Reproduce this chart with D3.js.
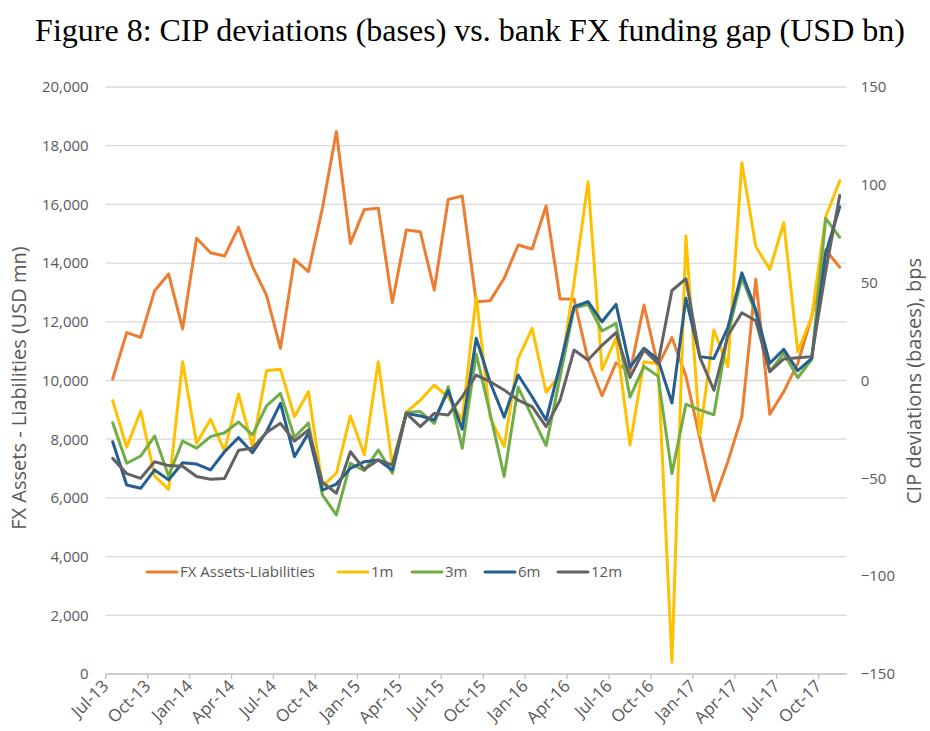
<!DOCTYPE html>
<html><head><meta charset="utf-8">
<script src="https://cdn.jsdelivr.net/npm/d3@7"></script>
<style>body{margin:0;background:#fff}svg{display:block}</style>
</head><body>
<svg id="chart" width="930" height="731"></svg>
<script>
const months = ["Jul-13","Aug-13","Sep-13","Oct-13","Nov-13","Dec-13",
"Jan-14","Feb-14","Mar-14","Apr-14","May-14","Jun-14","Jul-14","Aug-14","Sep-14","Oct-14","Nov-14","Dec-14",
"Jan-15","Feb-15","Mar-15","Apr-15","May-15","Jun-15","Jul-15","Aug-15","Sep-15","Oct-15","Nov-15","Dec-15",
"Jan-16","Feb-16","Mar-16","Apr-16","May-16","Jun-16","Jul-16","Aug-16","Sep-16","Oct-16","Nov-16","Dec-16",
"Jan-17","Feb-17","Mar-17","Apr-17","May-17","Jun-17","Jul-17","Aug-17","Sep-17","Oct-17","Nov-17"];

const fxGap = [10050,11630,11470,13060,13630,11755,14845,14355,14240,15220,
13880,12910,11095,14130,13710,15870,18480,14670,15830,15870,
12650,15130,15070,13085,16170,16285,12680,12720,13480,14615,
14480,15945,12775,12775,10700,9480,10600,10290,12570,10500,
11460,10150,8030,5905,7235,8770,13450,8850,9620,10585,
12175,14450,13860];

const cip1m = [-10.3,-34.1,-15.6,-48.8,-55.6,9.6,-32.1,-19.8,-36.0,-6.9,
-33.8,5.0,5.7,-18.5,-5.7,-54,-47.4,-18.1,-38,9.6,
-43,-16.2,-10.1,-2.3,-8.5,-20,42.8,-19,-33.8,11.3,
26.7,-6,3,50,101.6,5.4,21.6,-33,9.6,8.5,
-144,73.8,-27.8,25.8,7.1,111.3,68.4,56.8,80.6,14.7,
32.6,83.7,102.1];

const cip3m = [-21.6,-42.3,-38.6,-28.4,-48.8,-30.9,-34.6,-28.7,-26.7,-21.2,
-27.8,-13.0,-6.6,-29,-21.7,-58.5,-68.7,-42.3,-46.1,-35.5,
-47.4,-16.4,-15.9,-21.9,-3.2,-34.6,13.5,-17,-49,-3.5,
-18.5,-33.3,2,36.9,39,25.3,29.2,-8.5,7.2,2.3,
-47.6,-12.1,-15.1,-17.5,24,52.5,34.3,4.5,13.9,1.4,
10.8,82.9,73.2];

const cip6m = [-31.3,-53.4,-55.1,-45.7,-50.8,-42,-42.7,-45.7,-36.4,-29.2,
-36.9,-26.2,-11.7,-38.9,-27,-56,-52.9,-44.9,-41.5,-40.6,
-45.7,-16.8,-18.1,-20.2,-5.2,-24.9,21.6,-1,-18.8,2.8,
-8.3,-20.2,8,37.7,40.3,30,38.9,6.7,16.5,10.8,
-11.5,42,12.2,11.3,27,55,36,8.8,15.9,5,
11.3,65,88.8];

const cip12m = [-39.8,-47.6,-50,-41.5,-43.5,-43.8,-49.1,-50.5,-50.1,-35.7,
-34.6,-26.6,-21.9,-31,-25.3,-52,-57.6,-36.4,-45.4,-40.6,
-43.2,-16.8,-23.6,-16.8,-17.6,-8.3,2.8,-0.6,-4.9,-10,
-13.4,-23.6,-10,15.6,10.5,18,24.5,1.5,15.6,8.7,
46,52,11.8,-5,23,34.6,30.5,4.5,11,11.6,
12.2,56,94.5];

const leftTicks = [0,2000,4000,6000,8000,10000,12000,14000,16000,18000,20000];
const rightTicks = [-150,-100,-50,0,50,100,150];
const seriesNames = ["FX Assets-Liabilities","1m","3m","6m","12m"];
const seriesColors = ["#ED7D31","#FFC000","#70AD47","#255E91","#636363"];

const svg = d3.select("#chart");
const L = 105.7, R = 846.7, T = 87, B = 674;
const font = "'Open Sans', sans-serif";
const grey = "#595959";

const x = d3.scaleBand().domain(months).range([L, R]).padding(0);
const yL = d3.scaleLinear().domain([0, 20000]).range([B, T]);
const yR = d3.scaleLinear().domain([-150, 150]).range([B, T]);
const cx = m => x(m) + x.bandwidth() / 2;

// title
svg.append("text").attr("x", 470).attr("y", 41).attr("text-anchor", "middle")
  .attr("font-family", "'Liberation Serif', 'Times New Roman', serif").attr("font-size", 32)
  .attr("fill", "#000").text("Figure 8: CIP deviations (bases) vs. bank FX funding gap (USD bn)");

// gridlines
svg.append("g").selectAll("line").data(leftTicks.filter(d => d > 0)).join("line")
  .attr("x1", L).attr("x2", R).attr("y1", d => yL(d)).attr("y2", d => yL(d))
  .attr("stroke", "#D9D9D9").attr("stroke-width", 1.3);

// left axis
const gl = svg.append("g").attr("transform", `translate(${L},0)`)
  .call(d3.axisLeft(yL).tickValues(leftTicks).tickFormat(d3.format(",")).tickSize(0).tickPadding(17));
gl.select(".domain").remove();
gl.selectAll("text").attr("font-family", font).attr("font-size", 15).attr("fill", grey);

// right axis
const gr = svg.append("g").attr("transform", `translate(${R},0)`)
  .call(d3.axisRight(yR).tickValues(rightTicks).tickFormat(d3.format("d")).tickSize(0).tickPadding(14));
gr.select(".domain").remove();
gr.selectAll("text").attr("font-family", font).attr("font-size", 15).attr("fill", grey);

// bottom axis
svg.append("line").attr("x1", L).attr("x2", R).attr("y1", B).attr("y2", B)
  .attr("stroke", "#BFBFBF").attr("stroke-width", 1.3);
const tickMonths = months.filter((m, i) => i % 3 === 0);
const gx = svg.append("g");
gx.selectAll("line").data(tickMonths).join("line")
  .attr("x1", d => x(d)).attr("x2", d => x(d)).attr("y1", B).attr("y2", B + 5)
  .attr("stroke", "#BFBFBF").attr("stroke-width", 1.3);
gx.selectAll("text").data(tickMonths).join("text")
  .attr("transform", d => `translate(${x(d) + 4},${B + 13}) rotate(-45)`)
  .attr("text-anchor", "end").attr("font-family", font).attr("font-size", 17)
  .attr("fill", grey).text(d => d);

// axis titles
svg.append("text").attr("transform", `translate(26,388) rotate(-90)`).attr("text-anchor", "middle")
  .attr("font-family", font).attr("font-size", 20).attr("fill", grey)
  .text("FX Assets - Liabilities (USD mn)");
svg.append("text").attr("transform", `translate(921,381) rotate(-90)`).attr("text-anchor", "middle")
  .attr("font-family", font).attr("font-size", 20).attr("fill", grey)
  .text("CIP deviations (bases), bps");

// lines
const lineL = d3.line().x((d, i) => cx(months[i])).y(d => yL(d));
const lineR = d3.line().x((d, i) => cx(months[i])).y(d => yR(d));
const drawOrder = [
  {data: fxGap, gen: lineL, c: seriesColors[0]},
  {data: cip1m, gen: lineR, c: seriesColors[1]},
  {data: cip3m, gen: lineR, c: seriesColors[2]},
  {data: cip6m, gen: lineR, c: seriesColors[3]},
  {data: cip12m, gen: lineR, c: seriesColors[4]}
];
drawOrder.forEach(s => {
  svg.append("path").attr("d", s.gen(s.data)).attr("fill", "none")
    .attr("stroke", s.c).attr("stroke-width", 3).attr("stroke-linejoin", "round").attr("stroke-linecap", "round");
});

// legend
const legendX = [147, 338, 412, 485, 558];
const lg = svg.append("g");
const ly = 572;
seriesNames.forEach((n, i) => {
  const lx = legendX[i];
  lg.append("line").attr("x1", lx).attr("x2", lx + 30).attr("y1", ly).attr("y2", ly)
    .attr("stroke", seriesColors[i]).attr("stroke-width", 3).attr("stroke-linecap", "round");
  lg.append("text").attr("x", lx + 33).attr("y", ly + 5)
    .attr("font-family", font).attr("font-size", 15).attr("fill", grey).text(n);
});
</script>
</body></html>
